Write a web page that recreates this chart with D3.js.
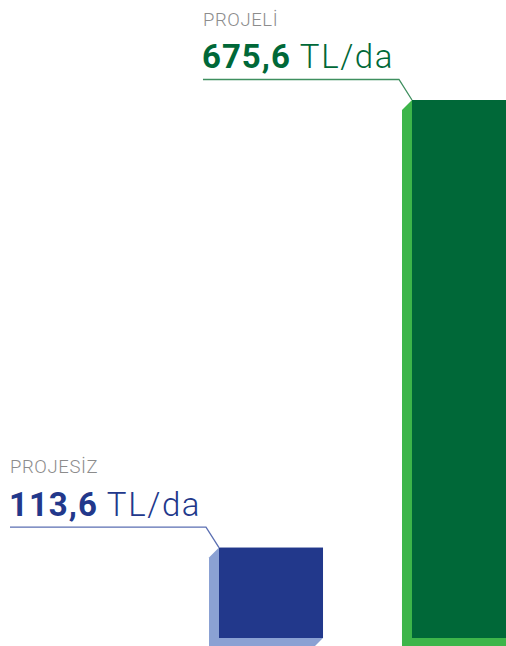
<!DOCTYPE html>
<html>
<head>
<meta charset="utf-8">
<script src="https://cdn.jsdelivr.net/npm/d3@7"></script>
<style>
  html, body { margin: 0; padding: 0; background: #fff; }
  svg { display: block; }
</style>
</head>
<body>
<div id="graph"></div>
<script>
var categories = ["PROJESİZ", "PROJELİ"];
var values = [113.6, 675.6];
var valueLabels = ["113,6", "675,6"];
var unit = "TL/da";

var colors = {
  "PROJESİZ": { front: "#22388b", side: "#8ba1d3", text: "#22388b", line: "#5b6fb2" },
  "PROJELİ": { front: "#006838", side: "#3db54a", text: "#006838", line: "#3f8f5f" }
};

var width = 506, height = 646;
var baseY = 638, topY = 100;
var dx = 10, dy = 10;

var x = d3.scaleBand()
    .domain(categories)
    .range([219, 516])
    .paddingInner(0.461)
    .paddingOuter(0);
var y = d3.scaleLinear()
    .domain([0, d3.max(values)])
    .range([baseY, topY]);

var svg = d3.select("#graph").append("svg")
    .attr("width", width)
    .attr("height", height);

var data = categories.map(function(c, i) {
  return { cat: c, value: values[i], label: valueLabels[i] };
});

var g = svg.selectAll(".bar")
    .data(data)
  .enter().append("g")
    .attr("class", "bar");

// side / shadow
g.append("path")
    .attr("d", function(d) {
      var x0 = x(d.cat), x1 = x0 + x.bandwidth(), y0 = y(d.value), y1 = y(0);
      return "M" + x0 + "," + y0 +
        "L" + (x0 - dx) + "," + (y0 + dy) +
        "L" + (x0 - dx) + "," + (y1 + dy) +
        "L" + (x1 - dx) + "," + (y1 + dy) +
        "L" + x1 + "," + y1 + "Z";
    })
    .style("fill", function(d) { return colors[d.cat].side; });

// front face
g.append("rect")
    .attr("x", function(d) { return x(d.cat); })
    .attr("y", function(d) { return y(d.value); })
    .attr("width", x.bandwidth())
    .attr("height", function(d) { return y(0) - y(d.value); })
    .style("fill", function(d) { return colors[d.cat].front; });

// leader line
g.append("path")
    .attr("d", function(d) {
      var x0 = x(d.cat), y0 = y(d.value);
      return "M" + (x0 - 209) + "," + (y0 - 20.5) +
        "L" + (x0 - 13) + "," + (y0 - 20.5) +
        "L" + x0 + "," + y0;
    })
    .style("fill", "none")
    .style("stroke", function(d) { return colors[d.cat].line; })
    .style("stroke-width", 1.3);

// category label
g.append("text")
    .attr("x", function(d) { return x(d.cat) - 209; })
    .attr("y", function(d) { return y(d.value) - 74.5; })
    .style("font-family", "Roboto, sans-serif")
    .style("font-weight", 300)
    .style("font-size", "18.5px")
    .style("letter-spacing", "0.6px")
    .style("fill", "#8c8c8c")
    .text(function(d) { return d.cat; });

// value label
var vt = g.append("text")
    .attr("x", function(d) { return x(d.cat) - 210; })
    .attr("y", function(d) { return y(d.value) - 32; })
    .style("font-family", "Roboto, sans-serif")
    .style("font-size", "33px")
    .style("fill", function(d) { return colors[d.cat].text; });
vt.append("tspan")
    .style("font-weight", 700)
    .style("letter-spacing", "1px")
    .text(function(d) { return d.label; });
vt.append("tspan")
    .style("font-weight", 300)
    .style("letter-spacing", "1.6px")
    .text(" " + unit);
</script>
</body>
</html>
